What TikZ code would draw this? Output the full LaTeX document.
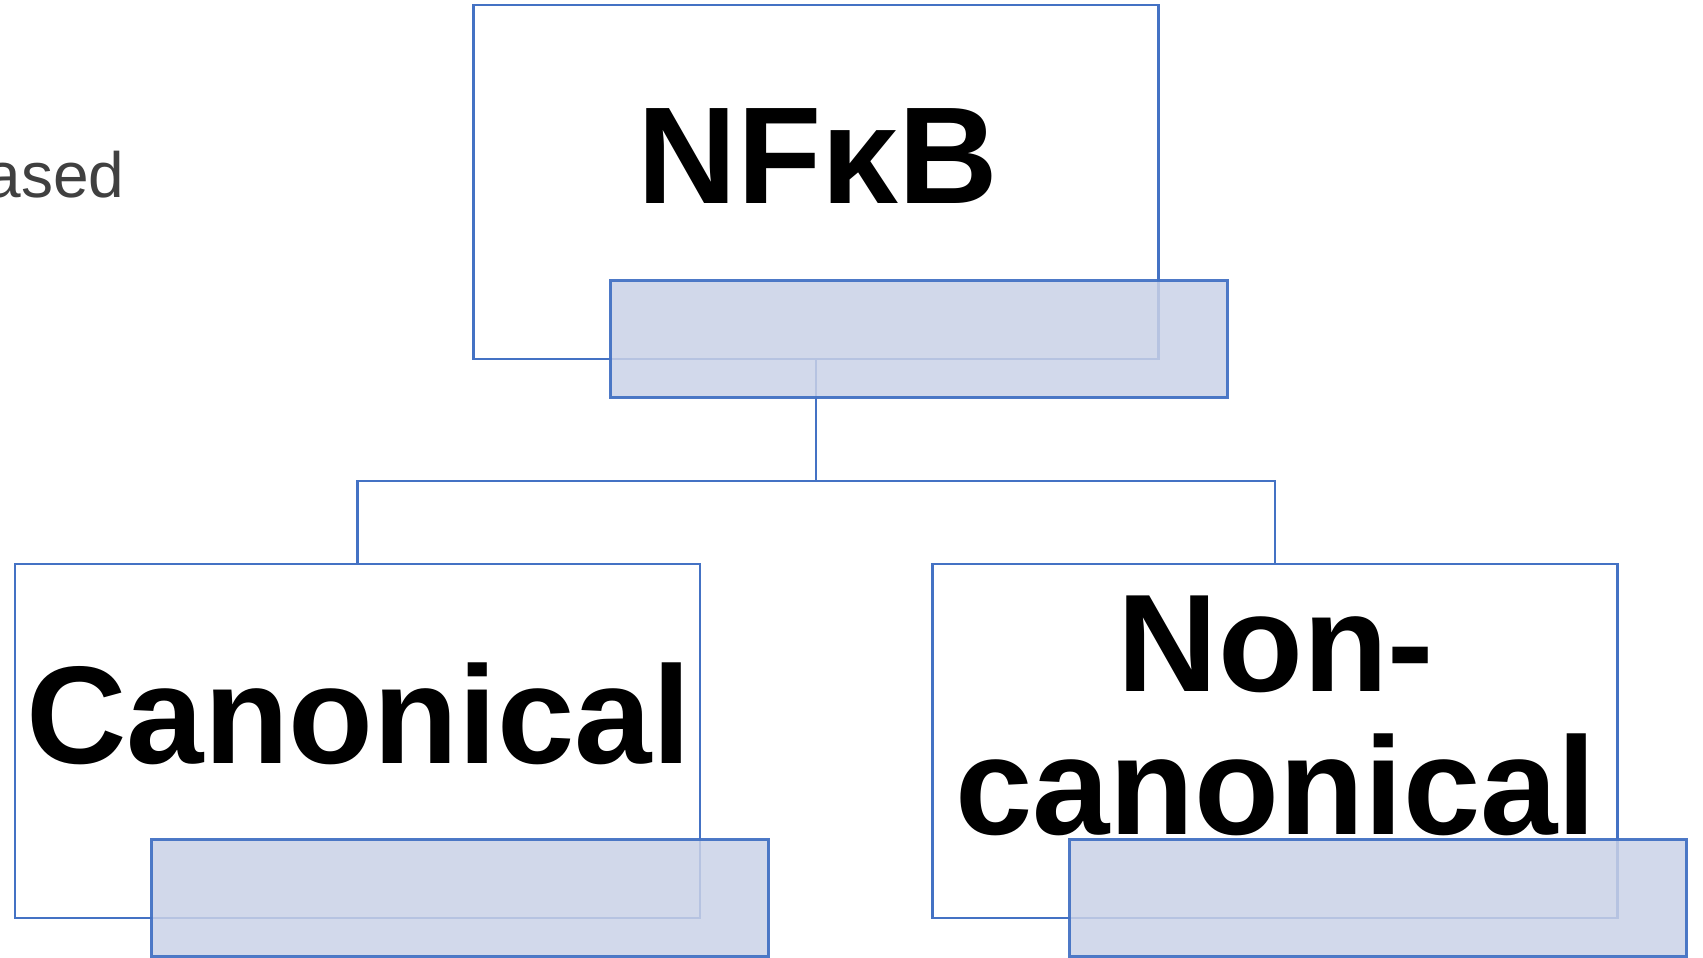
\documentclass[tikz,border=0pt]{standalone}
\usepackage{fontspec}
\setmainfont{Liberation Sans}
\definecolor{edgeblue}{HTML}{4472C4}
\definecolor{notefill}{RGB}{202,210,231}
\definecolor{graytext}{HTML}{404040}
\tikzset{
  pathbox/.style={draw=edgeblue, line width=2.5pt, fill=white, inner sep=0pt,
    minimum width=685pt, minimum height=354pt},
  notebox/.style={draw=edgeblue, line width=3pt, fill=notefill, fill opacity=0.85,
    draw opacity=0.95, inner sep=0pt, minimum width=617pt, minimum height=117pt},
  link/.style={draw=edgeblue, line width=2.5pt},
  bigword/.style={inner sep=0pt, font=\fontsize{139}{143}\selectfont\bfseries, text=black},
}
\begin{document}
\begin{tikzpicture}[x=1pt, y=-1pt]
  \useasboundingbox (0,0) rectangle (1703,958);

  % partial caption at the left margin
  \node[anchor=base east, inner sep=0pt, text=graytext,
        font=\fontsize{64}{70}\selectfont] (side) at (124.5,197) {ased};

  % tree boxes
  \node[pathbox] (top) at (816.2,181.9) {};
  \node[pathbox] (left) at (357.3,740.8) {};
  \node[pathbox] (right) at (1275.1,740.8) {};

  % connectors
  \coordinate (split) at (816.2,481);
  \draw[link] (top.south) -- (split) -| (left.north);
  \draw[link] (split) -| (right.north);

  % labels
  \node[bigword, font=\fontsize{138}{143}\selectfont\bfseries, anchor=base] (toptext) at (818,203) {NFκB};
  \node[bigword, anchor=base] (lefttext) at (358.5,763.5) {Canonical};
  \node[bigword, anchor=base, align=center] (righttext) at (1276,834) {Non-\\canonical};

  % translucent note panels
  \node[notebox] (topnote) at (918.9,339.4) {};
  \node[notebox] (leftnote) at (460,897.7) {};
  \node[notebox] (rightnote) at (1378.3,897.7) {};
\end{tikzpicture}
\end{document}
